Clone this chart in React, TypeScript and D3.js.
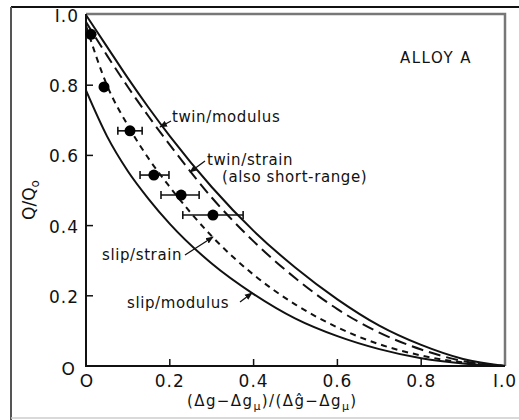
import React from "react";
import * as d3 from "d3";

// abscissa samples shared by the four theory curves
const xs = [0, 0.05, 0.1, 0.15, 0.2, 0.3, 0.4, 0.5, 0.6, 0.7, 0.8, 0.9, 1.0];
const twinModulus = [1.0, 0.91, 0.82, 0.735, 0.655, 0.51, 0.385, 0.28, 0.19, 0.115, 0.06, 0.02, 0];
const twinStrain = [0.98, 0.885, 0.795, 0.71, 0.63, 0.48, 0.355, 0.25, 0.162, 0.095, 0.047, 0.014, 0];
const slipStrain = [0.97, 0.80, 0.685, 0.59, 0.51, 0.37, 0.26, 0.175, 0.11, 0.062, 0.03, 0.01, 0];
const slipModulus = [0.785, 0.655, 0.555, 0.475, 0.405, 0.292, 0.205, 0.135, 0.085, 0.048, 0.022, 0.007, 0];

// measured points (Alloy A)
const ptX = [0.012, 0.043, 0.105, 0.162, 0.227, 0.303];
const ptQ = [0.945, 0.795, 0.67, 0.544, 0.487, 0.43];
const errLo = [null, null, 0.076, 0.129, 0.179, 0.231];
const errHi = [null, null, 0.134, 0.198, 0.27, 0.375];

const xTicks = [0.2, 0.4, 0.6, 0.8, 1.0];
const xTickLabels = ["0.2", "0.4", "0.6", "0.8", "I.0"];
const yTicks = [0.2, 0.4, 0.6, 0.8, 1.0];
const yTickLabels = ["0.2", "0.4", "0.6", "0.8", "I.0"];

const W = 519, H = 420;
const font = "'DejaVu Sans', sans-serif";

const App = () => {
    const svgRef = React.useRef(null);

    React.useEffect(() => {
        drawChart();
    }, []);

    const drawChart = () => {
        if (!svgRef.current) return;
        const svg = d3.select(svgRef.current);
        svg.selectAll("*").remove();

        const x = d3.scaleLinear().domain([0, 1]).range([86, 505]);
        const y = d3.scaleLinear().domain([0, 1]).range([366, 15]);

        svg.append("rect").attr("width", W).attr("height", H).attr("fill", "#fff");

        // outer scan frame
        svg.append("line").attr("x1", 11).attr("x2", W).attr("y1", 7).attr("y2", 7)
            .attr("stroke", "#111").attr("stroke-width", 2);
        svg.append("line").attr("x1", 11).attr("x2", 11).attr("y1", 7).attr("y2", H)
            .attr("stroke", "#555").attr("stroke-width", 2);
        svg.append("line").attr("x1", 11).attr("x2", W).attr("y1", 418).attr("y2", 418)
            .attr("stroke", "#ccc").attr("stroke-width", 1.5);

        // plot frame: gray top/right, black axes
        svg.append("path")
            .attr("d", `M${x(0)},${y(1) - 1}H${x(1)}V${y(0)}`)
            .attr("fill", "none").attr("stroke", "#777").attr("stroke-width", 2.5);
        svg.append("path")
            .attr("d", `M${x(0)},${y(1) - 1}V${y(0)}H${x(1)}`)
            .attr("fill", "none").attr("stroke", "#111").attr("stroke-width", 2);

        const defs = svg.append("defs");
        defs.append("marker")
            .attr("id", "arr").attr("viewBox", "0 0 10 10")
            .attr("refX", 9).attr("refY", 5)
            .attr("markerWidth", 6).attr("markerHeight", 6)
            .attr("orient", "auto")
            .append("path").attr("d", "M0,1L10,5L0,9Z").attr("fill", "#111");

        // ticks (inward)
        const ticks = svg.append("g").attr("stroke", "#111").attr("stroke-width", 1.5);
        xTicks.slice(0, 4).forEach(t => {
            ticks.append("line").attr("x1", x(t)).attr("x2", x(t)).attr("y1", y(0)).attr("y2", y(0) - 7);
        });
        yTicks.slice(0, 4).forEach(t => {
            ticks.append("line").attr("x1", x(0)).attr("x2", x(0) + 7).attr("y1", y(t)).attr("y2", y(t));
        });

        const lbl = svg.append("g")
            .style("font-family", font).style("font-size", "17px").attr("fill", "#111")
            .attr("letter-spacing", 1);
        xTicks.forEach((t, i) => {
            lbl.append("text").attr("x", x(t)).attr("y", 387).attr("text-anchor", "middle").text(xTickLabels[i]);
        });
        yTicks.forEach((t, i) => {
            lbl.append("text").attr("x", 79).attr("y", y(t) + 7).attr("text-anchor", "end").text(yTickLabels[i]);
        });
        lbl.append("text").attr("x", 76).attr("y", 375).attr("text-anchor", "end").text("O");
        lbl.append("text").attr("x", x(0) + 1).attr("y", 387).attr("text-anchor", "middle").text("O");

        // curves
        const line = d3.line()
            .x(d => x(d[0]))
            .y(d => y(d[1]))
            .curve(d3.curveMonotoneX);
        const curves = [
            { v: twinModulus, dash: null },
            { v: twinStrain, dash: "12,6" },
            { v: slipStrain, dash: "6,5" },
            { v: slipModulus, dash: null },
        ];
        const cg = svg.append("g").attr("fill", "none").attr("stroke", "#111").attr("stroke-width", 2);
        curves.forEach(c => {
            cg.append("path")
                .attr("d", line(xs.map((xv, i) => [xv, c.v[i]])))
                .attr("stroke-dasharray", c.dash);
        });

        // error bars + points
        const pg = svg.append("g").attr("stroke", "#111").attr("stroke-width", 1.6);
        ptX.forEach((px, i) => {
            if (errLo[i] == null) return;
            const yy = y(ptQ[i]);
            pg.append("line").attr("x1", x(errLo[i])).attr("x2", x(errHi[i])).attr("y1", yy).attr("y2", yy);
            [errLo[i], errHi[i]].forEach(e => {
                pg.append("line").attr("x1", x(e)).attr("x2", x(e)).attr("y1", yy - 4).attr("y2", yy + 4);
            });
        });
        svg.append("g").selectAll("circle")
            .data(ptX)
            .join("circle")
            .attr("cx", d => x(d))
            .attr("cy", (d, i) => y(ptQ[i]))
            .attr("r", 5.5)
            .attr("fill", "#000");

        // annotations
        const ann = svg.append("g")
            .style("font-family", font).style("font-size", "15px").attr("fill", "#111")
            .attr("letter-spacing", 0.6);
        ann.append("text").attr("x", 400).attr("y", 63).attr("letter-spacing", 1.5).text("ALLOY A");
        ann.append("text").attr("x", 172).attr("y", 122).text("twin/modulus");
        ann.append("text").attr("x", 207).attr("y", 165).text("twin/strain");
        ann.append("text").attr("x", 222).attr("y", 182).text("(also short-range)");
        ann.append("text").attr("x", 102).attr("y", 260).text("slip/strain");
        ann.append("text").attr("x", 127).attr("y", 308).text("slip/modulus");

        const pointers = [
            [171, 121, 160, 127],
            [205, 161, 190, 172],
            [185, 255, 213, 237],
            [240, 302, 252, 293],
        ];
        const lg = svg.append("g").attr("stroke", "#111").attr("stroke-width", 1.3);
        pointers.forEach(p => {
            lg.append("line").attr("x1", p[0]).attr("y1", p[1]).attr("x2", p[2]).attr("y2", p[3])
                .attr("marker-end", "url(#arr)");
        });

        // axis titles
        const xt = svg.append("text")
            .attr("x", 187).attr("y", 406)
            .style("font-family", font).style("font-size", "15px").attr("fill", "#111")
            .attr("letter-spacing", 1.4);
        xt.append("tspan").text("(Δg−Δg");
        xt.append("tspan").attr("dy", 4).style("font-size", "11px").text("μ");
        xt.append("tspan").attr("dy", -4).text(")/(Δĝ−Δg");
        xt.append("tspan").attr("dy", 4).style("font-size", "11px").text("μ");
        xt.append("tspan").attr("dy", -4).text(")");

        const yt = svg.append("text")
            .attr("transform", "translate(35,200) rotate(-90)")
            .attr("text-anchor", "middle")
            .style("font-family", font).style("font-size", "17px").attr("fill", "#111");
        yt.append("tspan").text("Q/Q");
        yt.append("tspan").attr("dy", 4).style("font-size", "12px").text("o");
    };

    return (
        <div style={{ position: "fixed", left: 0, top: 0 }}>
            <svg ref={svgRef} width={W} height={H} style={{ display: "block" }}></svg>
        </div>
    );
};

export default App;
